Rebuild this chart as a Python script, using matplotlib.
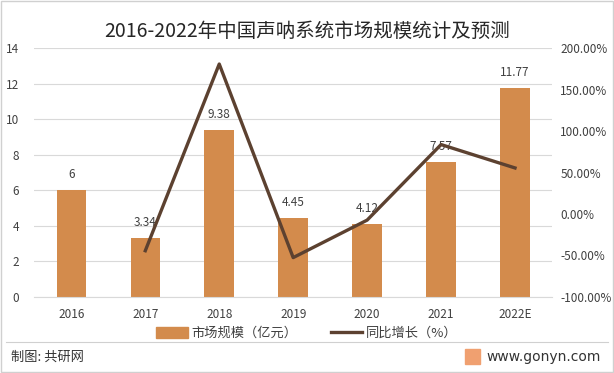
import numpy as np
import matplotlib.pyplot as plt
from matplotlib.lines import Line2D
from matplotlib.patches import Rectangle

plt.rcParams['font.family'] = ['Noto Sans CJK SC', 'DejaVu Sans']

years = ['2016', '2017', '2018', '2019', '2020', '2021', '2022E']
market_size = [6, 3.34, 9.38, 4.45, 4.12, 7.57, 11.77]
growth = [None, -44.3, 180.8, -52.6, -7.4, 83.7, 55.5]
size_labels = ['6', '3.34', '9.38', '4.45', '4.12', '7.57', '11.77']

bar_color = '#D38B4C'
line_color = '#5C4130'
text_color = '#404040'

fig = plt.figure(figsize=(6.14, 3.73), dpi=100)
fig.patches.append(Rectangle((0.002, 0.003), 0.996, 0.994, transform=fig.transFigure,
                             fill=False, edgecolor='#D0D0D0', linewidth=1))

ax = fig.add_axes([0.056, 0.204, 0.843, 0.667])
x = np.arange(len(years))
bars = ax.bar(x, market_size, width=0.4, color=bar_color, zorder=2)
ax.set_xlim(-0.5, len(years) - 0.5)
ax.set_ylim(0, 14)
ax.set_yticks(range(0, 15, 2))
ax.grid(axis='y', color='#D9D9D9', linewidth=0.8, zorder=0)
ax.set_axisbelow(True)
for s in ['top', 'right', 'left']:
    ax.spines[s].set_visible(False)
ax.spines['bottom'].set_color('#D9D9D9')
ax.tick_params(axis='both', length=0, labelsize=8.5, colors=text_color)
ax.tick_params(axis='y', pad=11)
ax.set_xticks(x)
ax.set_xticklabels(years)
ax.tick_params(axis='x', pad=8)

for xi, val, lab in zip(x, market_size, size_labels):
    ax.text(xi, val + 0.5, lab, ha='center', va='bottom', fontsize=8.5, color=text_color, zorder=4)

ax2 = ax.twinx()
gx = [xi for xi, g in zip(x, growth) if g is not None]
gy = [g for g in growth if g is not None]
ax2.plot(gx, gy, color=line_color, linewidth=2.4, zorder=3)
ax2.set_ylim(-100, 200)
ax2.set_yticks(range(-100, 201, 50))
ax2.set_yticklabels([f'{v:.2f}%' for v in range(-100, 201, 50)])
for s in ['top', 'right', 'left', 'bottom']:
    ax2.spines[s].set_visible(False)
ax2.tick_params(axis='y', length=0, labelsize=8.5, colors=text_color, pad=6)

fig.text(0.5, 0.915, '2016-2022年中国声呐系统市场规模统计及预测', ha='center', va='center',
         fontsize=14, color='#262626')

handles = [Rectangle((0, 0), 1, 1, color=bar_color),
           Line2D([0], [0], color=line_color, linewidth=2.4)]
fig.legend(handles, ['市场规模（亿元）', '同比增长（%）'], loc='center', bbox_to_anchor=(0.5, 0.107),
           ncol=2, frameon=False, fontsize=9.5, handlelength=2.4, handleheight=0.9,
           handletextpad=0.3, columnspacing=2.5, labelcolor=text_color)

fig.add_artist(Line2D([0.01, 0.99], [0.083, 0.083], transform=fig.transFigure,
                      color='#D0D0D0', linewidth=0.8))
fig.text(0.018, 0.043, '制图: 共研网', ha='left', va='center', fontsize=9.5, color='#333333')
fig.patches.append(Rectangle((0.757, 0.025), 0.024, 0.04, transform=fig.transFigure,
                             color='#F0A070'))
fig.text(0.792, 0.043, 'www.gonyn.com', ha='left', va='center', fontsize=10, color='#333333',
         family='DejaVu Sans')

fig.savefig('out.png', dpi=100, facecolor='white')
